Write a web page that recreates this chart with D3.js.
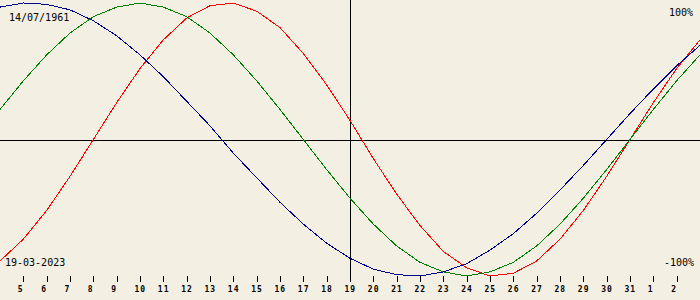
<!DOCTYPE html>
<html>
<head>
<meta charset="utf-8">
<script src="https://cdn.jsdelivr.net/npm/d3@7"></script>
<style>
  html, body { margin: 0; padding: 0; background: #f3efe3; }
  svg { display: block; }
  .lbl { font-family: "DejaVu Sans Mono", monospace; font-size: 10px; fill: #000; }
  .tick-lbl { font-family: "DejaVu Sans Mono", monospace; font-size: 8px; font-weight: bold; fill: #000; }
</style>
</head>
<body>
<div id="chart"></div>
<script>
// days shown, 4 March to 3 April 2023
var days = [4, 5, 6, 7, 8, 9, 10, 11, 12, 13, 14, 15, 16, 17, 18, 19, 20, 21, 22, 23, 24, 25, 26, 27, 28, 29, 30, 31, 1, 2, 3];

// red (physical)
var physical = [-0.89, -0.73, -0.52, -0.27, 0, 0.27, 0.52, 0.73, 0.89, 0.98, 1.00, 0.94, 0.82, 0.63, 0.40, 0.14,
  -0.14, -0.40, -0.63, -0.82, -0.94, -1.00, -0.98, -0.89, -0.73, -0.52, -0.27, 0, 0.27, 0.52, 0.73];
// green (emotional)
var emotional = [0.22, 0.43, 0.62, 0.78, 0.90, 0.97, 1.00, 0.97, 0.90, 0.78, 0.62, 0.43, 0.22, 0, -0.22, -0.43,
  -0.62, -0.78, -0.90, -0.97, -1.00, -0.97, -0.90, -0.78, -0.62, -0.43, -0.22, 0, 0.22, 0.43, 0.62];
// blue (intellectual)
var intellectual = [0.97, 1.00, 0.99, 0.95, 0.87, 0.76, 0.62, 0.46, 0.28, 0.10, -0.10, -0.28, -0.46, -0.62, -0.76, -0.87,
  -0.95, -0.99, -1.00, -0.97, -0.91, -0.81, -0.69, -0.54, -0.37, -0.19, 0, 0.19, 0.37, 0.54, 0.69];

var birthLabel = "14/07/1961";
var dateLabel = "19-03-2023";
var todayIndex = 15;
var topLabel = "100%", bottomLabel = "-100%";

var width = 700, height = 300;

var svg = d3.select("#chart")
  .append("svg")
  .attr("width", width)
  .attr("height", height);

var x = d3.scaleLinear()
  .domain([0, days.length - 1])
  .range([0, width]);

var y = d3.scaleLinear()
  .domain([-1, 1])
  .range([276, 3]);

// zero line and today line
svg.append("line")
  .attr("x1", 0).attr("x2", width)
  .attr("y1", Math.round(y(0)) + 0.5).attr("y2", Math.round(y(0)) + 0.5)
  .attr("stroke", "#000");

svg.append("line")
  .attr("x1", Math.round(x(todayIndex)) + 0.5).attr("x2", Math.round(x(todayIndex)) + 0.5)
  .attr("y1", 0).attr("y2", 278)
  .attr("stroke", "#000");

// day ticks
var tickIdx = d3.range(1, days.length - 1);
var axis = svg.append("g");
axis.selectAll("line")
  .data(tickIdx)
  .enter().append("line")
  .attr("x1", function(i) { return Math.round(x(i)) + 0.5; })
  .attr("x2", function(i) { return Math.round(x(i)) + 0.5; })
  .attr("y1", 276).attr("y2", 282)
  .attr("stroke", "#000");
axis.selectAll("text")
  .data(tickIdx)
  .enter().append("text")
  .attr("class", "tick-lbl")
  .attr("x", function(i) { return x(i) - 5.5; })
  .attr("y", 291.5)
  .attr("letter-spacing", 1)
  .text(function(i) { return days[i]; });

// curves
var line = d3.line()
  .x(function(d, i) { return x(i); })
  .y(function(d) { return y(d); });

var series = [
  {values: physical, color: "#ff0000"},
  {values: emotional, color: "#008000"},
  {values: intellectual, color: "#000090"}
];

svg.selectAll(".curve")
  .data(series)
  .enter().append("path")
  .attr("class", "curve")
  .attr("d", function(s) { return line(s.values); })
  .attr("fill", "none")
  .attr("stroke", function(s) { return s.color; })
  .attr("stroke-width", 1)
  .attr("shape-rendering", "crispEdges");

// labels
svg.append("text").attr("class", "lbl").attr("x", 9).attr("y", 21).text(birthLabel);
svg.append("text").attr("class", "lbl").attr("x", 5).attr("y", 266).text(dateLabel);
svg.append("text").attr("class", "lbl").attr("x", 693).attr("y", 16).attr("text-anchor", "end").text(topLabel);
svg.append("text").attr("class", "lbl").attr("x", 694).attr("y", 266).attr("text-anchor", "end").text(bottomLabel);
</script>
</body>
</html>
